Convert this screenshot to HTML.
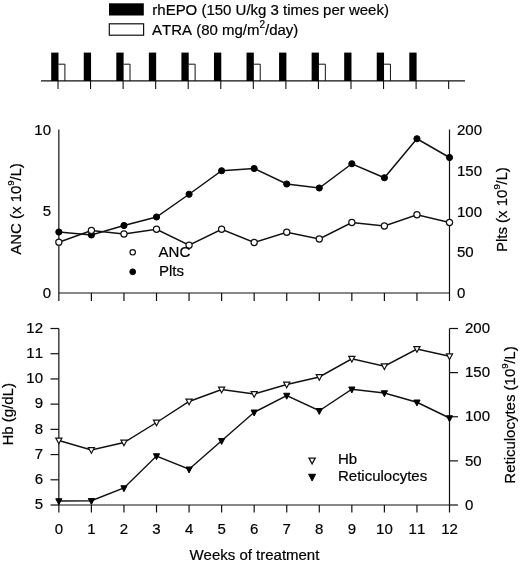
<!DOCTYPE html>
<html><head><meta charset="utf-8"><title>Figure</title>
<style>
html,body{margin:0;padding:0;background:#fff}
svg{display:block}
text{font-kerning:none;stroke:#000;stroke-width:0.2;font-family:"Liberation Sans",Arial,Helvetica,sans-serif;font-size:15px;fill:#000}
.tk{font-size:15px}
.ax{stroke:#111;stroke-width:1.2;fill:none}
.ln{stroke:#111;stroke-width:1.45;fill:none}
.of{fill:#fff;stroke:#111;stroke-width:1.2}
.ff{fill:#000;stroke:#000;stroke-width:1}
</style></head><body>
<svg width="520" height="563" viewBox="0 0 520 563">
<rect width="520" height="563" fill="#fff"/>

<rect x="109" y="3.3" width="34.8" height="12.2" fill="#000"/>
<rect x="109.3" y="23.8" width="34.3" height="11.4" class="of" style="stroke-width:1.2"/>
<text transform="translate(152.3 14.65) scale(1,1.02)">rhEPO (150 U/kg 3 times per week)</text>
<text transform="translate(152 35.15) scale(1,1.02)">ATRA (80 mg/m<tspan dy="-6.8" font-size="10">2</tspan><tspan dy="6.8">/day)</tspan></text>
<path class="ax" style="stroke-width:1.1" d="M41 80.9H465"/>
<path class="ax" style="stroke-width:1.1" d="M58.00 81V89"/>
<path class="ax" style="stroke-width:1.1" d="M90.55 81V89"/>
<path class="ax" style="stroke-width:1.1" d="M123.11 81V89"/>
<path class="ax" style="stroke-width:1.1" d="M155.66 81V89"/>
<path class="ax" style="stroke-width:1.1" d="M188.22 81V89"/>
<path class="ax" style="stroke-width:1.1" d="M220.77 81V89"/>
<path class="ax" style="stroke-width:1.1" d="M253.32 81V89"/>
<path class="ax" style="stroke-width:1.1" d="M285.88 81V89"/>
<path class="ax" style="stroke-width:1.1" d="M318.43 81V89"/>
<path class="ax" style="stroke-width:1.1" d="M350.99 81V89"/>
<path class="ax" style="stroke-width:1.1" d="M383.54 81V89"/>
<path class="ax" style="stroke-width:1.1" d="M416.10 81V89"/>
<path class="ax" style="stroke-width:1.1" d="M448.65 81V89"/>
<rect x="51.20" y="52.6" width="7.3" height="28.4" fill="#000"/>
<path class="ax" style="stroke-width:1" d="M58.50 64.2H64.90V81"/>
<rect x="83.75" y="52.6" width="7.3" height="28.4" fill="#000"/>
<rect x="116.31" y="52.6" width="7.3" height="28.4" fill="#000"/>
<path class="ax" style="stroke-width:1" d="M123.61 64.2H130.01V81"/>
<rect x="148.86" y="52.6" width="7.3" height="28.4" fill="#000"/>
<rect x="181.42" y="52.6" width="7.3" height="28.4" fill="#000"/>
<path class="ax" style="stroke-width:1" d="M188.72 64.2H195.12V81"/>
<rect x="213.97" y="52.6" width="7.3" height="28.4" fill="#000"/>
<rect x="246.52" y="52.6" width="7.3" height="28.4" fill="#000"/>
<path class="ax" style="stroke-width:1" d="M253.82 64.2H260.22V81"/>
<rect x="279.08" y="52.6" width="7.3" height="28.4" fill="#000"/>
<rect x="311.63" y="52.6" width="7.3" height="28.4" fill="#000"/>
<path class="ax" style="stroke-width:1" d="M318.93 64.2H325.33V81"/>
<rect x="344.19" y="52.6" width="7.3" height="28.4" fill="#000"/>
<rect x="376.74" y="52.6" width="7.3" height="28.4" fill="#000"/>
<path class="ax" style="stroke-width:1" d="M384.04 64.2H390.44V81"/>
<rect x="409.30" y="52.6" width="7.3" height="28.4" fill="#000"/>
<path class="ax" d="M58.85 129.5V301M449.5 129.5V301M58.85 293H449.5"/>
<path class="ax" d="M91.40 293V301"/>
<path class="ax" d="M123.96 293V301"/>
<path class="ax" d="M156.51 293V301"/>
<path class="ax" d="M189.07 293V301"/>
<path class="ax" d="M221.62 293V301"/>
<path class="ax" d="M254.17 293V301"/>
<path class="ax" d="M286.73 293V301"/>
<path class="ax" d="M319.28 293V301"/>
<path class="ax" d="M351.84 293V301"/>
<path class="ax" d="M384.39 293V301"/>
<path class="ax" d="M416.95 293V301"/>
<text class="tk" transform="translate(51 134.60) scale(1,1.0)" text-anchor="end">10</text>
<text class="tk" transform="translate(51 216.10) scale(1,1.0)" text-anchor="end">5</text>
<text class="tk" transform="translate(51 297.60) scale(1,1.0)" text-anchor="end">0</text>
<text class="tk" transform="translate(457 135.00) scale(1,1.0)">200</text>
<text class="tk" transform="translate(457 175.75) scale(1,1.0)">150</text>
<text class="tk" transform="translate(457 216.50) scale(1,1.0)">100</text>
<text class="tk" transform="translate(457 257.25) scale(1,1.0)">50</text>
<text class="tk" transform="translate(457 298.00) scale(1,1.0)">0</text>
<path class="ln" d="M58.85 232L91.40 235L123.96 225.5L156.51 217L189.07 194.25L221.62 170.75L254.17 168.5L286.73 184L319.28 188L351.84 163.75L384.39 177.75L416.95 138.75L449.50 157.5"/>
<path class="ln" d="M58.85 242.25L91.40 230.5L123.96 234L156.51 229.25L189.07 245.25L221.62 229.25L254.17 242.5L286.73 232.25L319.28 239L351.84 222.5L384.39 226L416.95 214.75L449.50 222.5"/>
<circle cx="58.85" cy="232" r="3.1" class="ff"/>
<circle cx="58.85" cy="242.25" r="3.1" class="of"/>
<circle cx="91.40" cy="235" r="3.1" class="ff"/>
<circle cx="91.40" cy="230.5" r="3.1" class="of"/>
<circle cx="123.96" cy="225.5" r="3.1" class="ff"/>
<circle cx="123.96" cy="234" r="3.1" class="of"/>
<circle cx="156.51" cy="217" r="3.1" class="ff"/>
<circle cx="156.51" cy="229.25" r="3.1" class="of"/>
<circle cx="189.07" cy="194.25" r="3.1" class="ff"/>
<circle cx="189.07" cy="245.25" r="3.1" class="of"/>
<circle cx="221.62" cy="170.75" r="3.1" class="ff"/>
<circle cx="221.62" cy="229.25" r="3.1" class="of"/>
<circle cx="254.17" cy="168.5" r="3.1" class="ff"/>
<circle cx="254.17" cy="242.5" r="3.1" class="of"/>
<circle cx="286.73" cy="184" r="3.1" class="ff"/>
<circle cx="286.73" cy="232.25" r="3.1" class="of"/>
<circle cx="319.28" cy="188" r="3.1" class="ff"/>
<circle cx="319.28" cy="239" r="3.1" class="of"/>
<circle cx="351.84" cy="163.75" r="3.1" class="ff"/>
<circle cx="351.84" cy="222.5" r="3.1" class="of"/>
<circle cx="384.39" cy="177.75" r="3.1" class="ff"/>
<circle cx="384.39" cy="226" r="3.1" class="of"/>
<circle cx="416.95" cy="138.75" r="3.1" class="ff"/>
<circle cx="416.95" cy="214.75" r="3.1" class="of"/>
<circle cx="449.50" cy="157.5" r="3.1" class="ff"/>
<circle cx="449.50" cy="222.5" r="3.1" class="of"/>
<circle cx="132.7" cy="252.3" r="2.7" class="of"/>
<circle cx="132.7" cy="271.8" r="2.9" class="ff"/>
<text transform="translate(158.6 257.45) scale(1,1.02)">ANC</text><text transform="translate(159 276.35) scale(1,1.02)">Plts</text>
<text transform="translate(20.8 209.0) rotate(-90) scale(1,1.02)" text-anchor="middle">ANC (x 10<tspan dy="-6.8" font-size="9.6">9</tspan><tspan dy="6.8" dx="-0.4">/L)</tspan></text>
<text transform="translate(506.5 209.6) rotate(-90) scale(1,1.02)" text-anchor="middle">Plts (x 10<tspan dy="-6.8" font-size="9.6">9</tspan><tspan dy="6.8" dx="-0.4">/L)</tspan></text>
<path class="ax" d="M58.85 328.5V512.5M449.5 328.5V512.5M58.85 505.0H449.5"/>
<path class="ax" d="M91.40 505.0V512.5"/>
<path class="ax" d="M123.96 505.0V512.5"/>
<path class="ax" d="M156.51 505.0V512.5"/>
<path class="ax" d="M189.07 505.0V512.5"/>
<path class="ax" d="M221.62 505.0V512.5"/>
<path class="ax" d="M254.17 505.0V512.5"/>
<path class="ax" d="M286.73 505.0V512.5"/>
<path class="ax" d="M319.28 505.0V512.5"/>
<path class="ax" d="M351.84 505.0V512.5"/>
<path class="ax" d="M384.39 505.0V512.5"/>
<path class="ax" d="M416.95 505.0V512.5"/>
<path class="ax" d="M50.5 328.50H58.85"/>
<text class="tk" transform="translate(43 332.70) scale(1,1.0)" text-anchor="end">12</text>
<path class="ax" d="M50.5 353.71H58.85"/>
<text class="tk" transform="translate(43 357.91) scale(1,1.0)" text-anchor="end">11</text>
<path class="ax" d="M50.5 378.93H58.85"/>
<text class="tk" transform="translate(43 383.13) scale(1,1.0)" text-anchor="end">10</text>
<path class="ax" d="M50.5 404.14H58.85"/>
<text class="tk" transform="translate(43 408.34) scale(1,1.0)" text-anchor="end">9</text>
<path class="ax" d="M50.5 429.36H58.85"/>
<text class="tk" transform="translate(43 433.56) scale(1,1.0)" text-anchor="end">8</text>
<path class="ax" d="M50.5 454.57H58.85"/>
<text class="tk" transform="translate(43 458.77) scale(1,1.0)" text-anchor="end">7</text>
<path class="ax" d="M50.5 479.79H58.85"/>
<text class="tk" transform="translate(43 483.99) scale(1,1.0)" text-anchor="end">6</text>
<path class="ax" d="M50.5 505.00H58.85"/>
<text class="tk" transform="translate(43 509.20) scale(1,1.0)" text-anchor="end">5</text>
<path class="ax" d="M449.5 328.50H458"/>
<text class="tk" transform="translate(465 333.20) scale(1,1.0)">200</text>
<path class="ax" d="M449.5 372.62H458"/>
<text class="tk" transform="translate(465 377.32) scale(1,1.0)">150</text>
<path class="ax" d="M449.5 416.75H458"/>
<text class="tk" transform="translate(465 421.45) scale(1,1.0)">100</text>
<path class="ax" d="M449.5 460.88H458"/>
<text class="tk" transform="translate(465 465.57) scale(1,1.0)">50</text>
<path class="ax" d="M449.5 505.00H458"/>
<text class="tk" transform="translate(465 509.70) scale(1,1.0)">0</text>
<path class="ln" d="M58.85 440.5L91.40 450L123.96 442.5L156.51 422.5L189.07 401.5L221.62 389.5L254.17 394L286.73 384.5L319.28 377L351.84 358.75L384.39 366.25L416.95 349L449.50 356.25"/>
<path class="ln" d="M58.85 501L91.40 500.75L123.96 488L156.51 456L189.07 469.25L221.62 440.75L254.17 412.25L286.73 395.5L319.28 410.75L351.84 389.25L384.39 393L416.95 402.25L449.50 418"/>
<path class="ff" style="stroke-width:1" d="M55.75 498.75H61.95L58.85 504.70Z"/>
<path class="of" style="stroke-width:1.15" d="M55.75 438.05H61.95L58.85 443.70Z"/>
<path class="ff" style="stroke-width:1" d="M88.30 498.50H94.50L91.40 504.45Z"/>
<path class="of" style="stroke-width:1.15" d="M88.30 447.55H94.50L91.40 453.20Z"/>
<path class="ff" style="stroke-width:1" d="M120.86 485.75H127.06L123.96 491.70Z"/>
<path class="of" style="stroke-width:1.15" d="M120.86 440.05H127.06L123.96 445.70Z"/>
<path class="ff" style="stroke-width:1" d="M153.41 453.75H159.61L156.51 459.70Z"/>
<path class="of" style="stroke-width:1.15" d="M153.41 420.05H159.61L156.51 425.70Z"/>
<path class="ff" style="stroke-width:1" d="M185.97 467.00H192.17L189.07 472.95Z"/>
<path class="of" style="stroke-width:1.15" d="M185.97 399.05H192.17L189.07 404.70Z"/>
<path class="ff" style="stroke-width:1" d="M218.52 438.50H224.72L221.62 444.45Z"/>
<path class="of" style="stroke-width:1.15" d="M218.52 387.05H224.72L221.62 392.70Z"/>
<path class="ff" style="stroke-width:1" d="M251.07 410.00H257.27L254.17 415.95Z"/>
<path class="of" style="stroke-width:1.15" d="M251.07 391.55H257.27L254.17 397.20Z"/>
<path class="ff" style="stroke-width:1" d="M283.63 393.25H289.83L286.73 399.20Z"/>
<path class="of" style="stroke-width:1.15" d="M283.63 382.05H289.83L286.73 387.70Z"/>
<path class="ff" style="stroke-width:1" d="M316.18 408.50H322.38L319.28 414.45Z"/>
<path class="of" style="stroke-width:1.15" d="M316.18 374.55H322.38L319.28 380.20Z"/>
<path class="ff" style="stroke-width:1" d="M348.74 387.00H354.94L351.84 392.95Z"/>
<path class="of" style="stroke-width:1.15" d="M348.74 356.30H354.94L351.84 361.95Z"/>
<path class="ff" style="stroke-width:1" d="M381.29 390.75H387.49L384.39 396.70Z"/>
<path class="of" style="stroke-width:1.15" d="M381.29 363.80H387.49L384.39 369.45Z"/>
<path class="ff" style="stroke-width:1" d="M413.85 400.00H420.05L416.95 405.95Z"/>
<path class="of" style="stroke-width:1.15" d="M413.85 346.55H420.05L416.95 352.20Z"/>
<path class="ff" style="stroke-width:1" d="M446.40 415.75H452.60L449.50 421.70Z"/>
<path class="of" style="stroke-width:1.15" d="M446.40 353.80H452.60L449.50 359.45Z"/>
<path class="of" style="stroke-width:1.3" d="M309.00 458.15H315.20L312.10 463.80Z"/>
<path class="ff" style="stroke-width:1" d="M308.63 474.28H315.57L312.10 480.94Z"/>
<text transform="translate(338 464.15) scale(1,1.02)">Hb</text><text transform="translate(338 480.95) scale(1,1.02)">Reticulocytes</text>
<text class="tk" transform="translate(58.85 533.80) scale(1,1.0)" text-anchor="middle">0</text>
<text class="tk" transform="translate(91.40 533.80) scale(1,1.0)" text-anchor="middle">1</text>
<text class="tk" transform="translate(123.96 533.80) scale(1,1.0)" text-anchor="middle">2</text>
<text class="tk" transform="translate(156.51 533.80) scale(1,1.0)" text-anchor="middle">3</text>
<text class="tk" transform="translate(189.07 533.80) scale(1,1.0)" text-anchor="middle">4</text>
<text class="tk" transform="translate(221.62 533.80) scale(1,1.0)" text-anchor="middle">5</text>
<text class="tk" transform="translate(254.17 533.80) scale(1,1.0)" text-anchor="middle">6</text>
<text class="tk" transform="translate(286.73 533.80) scale(1,1.0)" text-anchor="middle">7</text>
<text class="tk" transform="translate(319.28 533.80) scale(1,1.0)" text-anchor="middle">8</text>
<text class="tk" transform="translate(351.84 533.80) scale(1,1.0)" text-anchor="middle">9</text>
<text class="tk" transform="translate(384.39 533.80) scale(1,1.0)" text-anchor="middle">10</text>
<text class="tk" transform="translate(416.95 533.80) scale(1,1.0)" text-anchor="middle">11</text>
<text class="tk" transform="translate(449.50 533.80) scale(1,1.0)" text-anchor="middle">12</text>
<text transform="translate(254.4 560.25) scale(1,1.02)" text-anchor="middle">Weeks of treatment</text>
<text transform="translate(12.7 414.3) rotate(-90) scale(1,1.02)" text-anchor="middle">Hb (g/dL)</text>
<text transform="translate(514.8 415.0) rotate(-90) scale(1,1.02)" text-anchor="middle">Reticulocytes (10<tspan dy="-6.8" font-size="9.6">9</tspan><tspan dy="6.8" dx="-0.4">/L)</tspan></text>
</svg></body></html>
